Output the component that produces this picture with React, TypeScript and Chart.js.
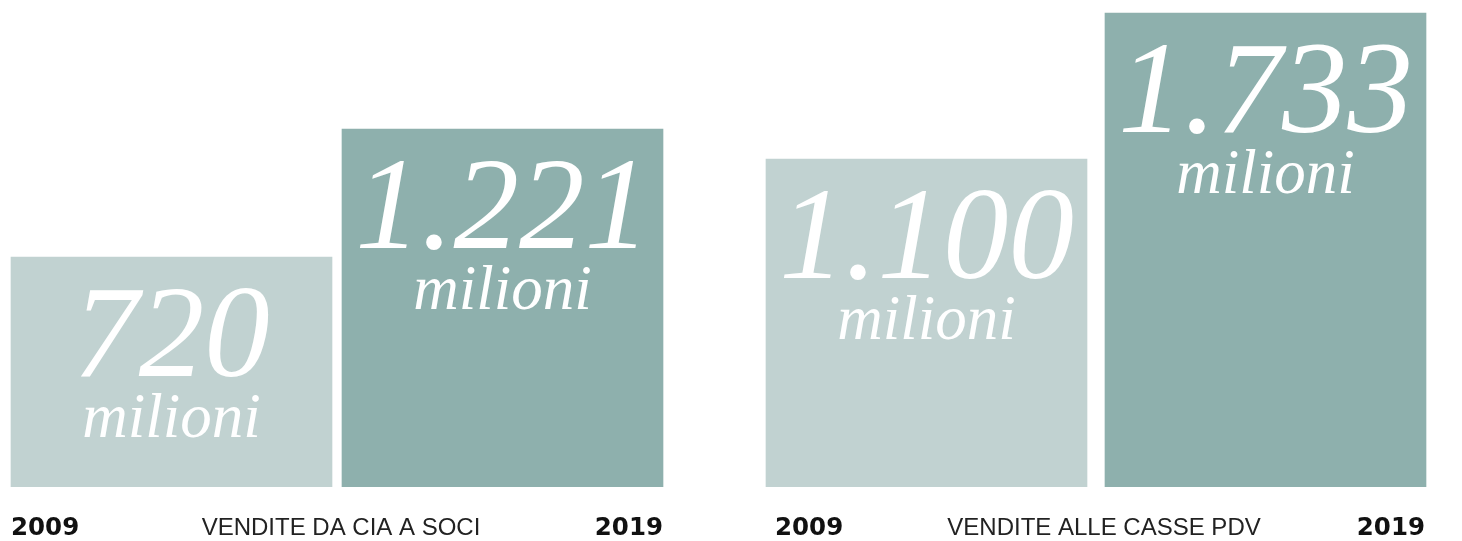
import React, { useEffect, useRef } from "react";
import { Chart, registerables } from "chart.js";

Chart.register(...registerables);

// ---- data ----
const YEARS = ["2009", "2019"];
const CIA_VALUES = [720, 1221];
const PDV_VALUES = [1100, 1733];
const PANEL_TITLES = ["VENDITE DA CIA A SOCI", "VENDITE ALLE CASSE PDV"];
const UNIT_LABEL = "milioni";
const CIA_AXIS = [-180, 1726]; // [min, max] of the value axis
const PDV_AXIS = [-322, 1790];

// ---- styles ----
const BAR_COLORS = ["#C1D2D1", "#8EB0AD"];
const NUMBER_FONT = "'Liberation Serif', 'Times New Roman', serif";
const YEAR_FONT = "'DejaVu Sans', Arial, sans-serif";
const LABEL_FONT = "'Liberation Sans', Arial, sans-serif";

const formatNumber = (v: number) =>
  String(v).replace(/\B(?=(\d{3})+(?!\d))/g, ".");

const barTextPlugin = {
  id: "barText",
  afterDatasetsDraw(chart: any) {
    const ctx: CanvasRenderingContext2D = chart.ctx;
    const meta = chart.getDatasetMeta(0);
    const data = chart.data.datasets[0].data as number[];
    const opts = chart.options.plugins.barText || {};
    ctx.save();
    ctx.fillStyle = "#ffffff";
    ctx.textAlign = "center";
    ctx.textBaseline = "alphabetic";
    meta.data.forEach((bar: any, i: number) => {
      const { x, y } = bar.getProps(["x", "y"], true);
      ctx.font = `italic 131px ${NUMBER_FONT}`;
      ctx.fillText(formatNumber(data[i]), x, y + 119);
      ctx.font = `italic 63px ${NUMBER_FONT}`;
      ctx.fillText(UNIT_LABEL, x, y + 180);
    });

    // bottom labels
    const first = meta.data[0];
    const last = meta.data[meta.data.length - 1];
    const left = first.x - first.width / 2 + (opts.insetLeft || 0);
    const right = last.x + last.width / 2 - (opts.insetRight || 0);
    const baseY = chart.chartArea.bottom + 48;
    const labels = chart.data.labels as string[];
    ctx.fillStyle = "#111111";
    ctx.font = `bold 24.5px ${YEAR_FONT}`;
    ctx.textAlign = "left";
    ctx.fillText(labels[0], left, baseY);
    ctx.textAlign = "right";
    ctx.fillText(labels[labels.length - 1], right, baseY);
    ctx.fillStyle = "#222222";
    ctx.font = `24px ${LABEL_FONT}`;
    ctx.textAlign = "center";
    ctx.fillText(opts.title || "", (left + right) / 2 + (opts.titleShift || 0), baseY);
    ctx.restore();
  },
};

type PanelProps = {
  values: number[];
  axis: number[];
  title: string;
  left: number;
  width: number;
  insetLeft?: number;
  insetRight?: number;
  titleShift?: number;
};

function Panel({ values, axis, title, left, width, insetLeft, insetRight, titleShift }: PanelProps) {
  const ref = useRef<HTMLCanvasElement | null>(null);
  useEffect(() => {
    if (!ref.current) return;
    const chart = new Chart(ref.current, {
      type: "bar",
      data: {
        labels: YEARS,
        datasets: [
          {
            data: values,
            backgroundColor: BAR_COLORS,
            borderWidth: 0,
            base: axis[0],
            barThickness: 321,
          } as any,
        ],
      },
      options: {
        responsive: false,
        animation: false,
        layout: { padding: { top: 0, bottom: 54, left: 0, right: 0 } },
        scales: {
          x: { display: false, grid: { display: false } },
          y: { display: false, min: axis[0], max: axis[1], grid: { display: false } },
        },
        plugins: {
          legend: { display: false },
          tooltip: { enabled: false },
          barText: { title, insetLeft, insetRight, titleShift },
        } as any,
      },
      plugins: [barTextPlugin],
    });
    return () => chart.destroy();
  }, []);
  return (
    <canvas
      ref={ref}
      width={width}
      height={541}
      style={{ position: "absolute", left, top: 0, display: "block" }}
    />
  );
}

export default function App() {
  useEffect(() => {
    document.body.style.margin = "0";
  }, []);
  return (
    <div style={{ position: "relative", width: 1462, height: 541, background: "#ffffff", overflow: "hidden" }}>
      <Panel values={CIA_VALUES} axis={CIA_AXIS} title={PANEL_TITLES[0]} left={6} width={662} titleShift={4} />
      <Panel
        values={PDV_VALUES}
        axis={PDV_AXIS}
        title={PANEL_TITLES[1]}
        left={757}
        width={678}
        insetLeft={9}
        insetRight={1}
        titleShift={4}
      />
    </div>
  );
}
